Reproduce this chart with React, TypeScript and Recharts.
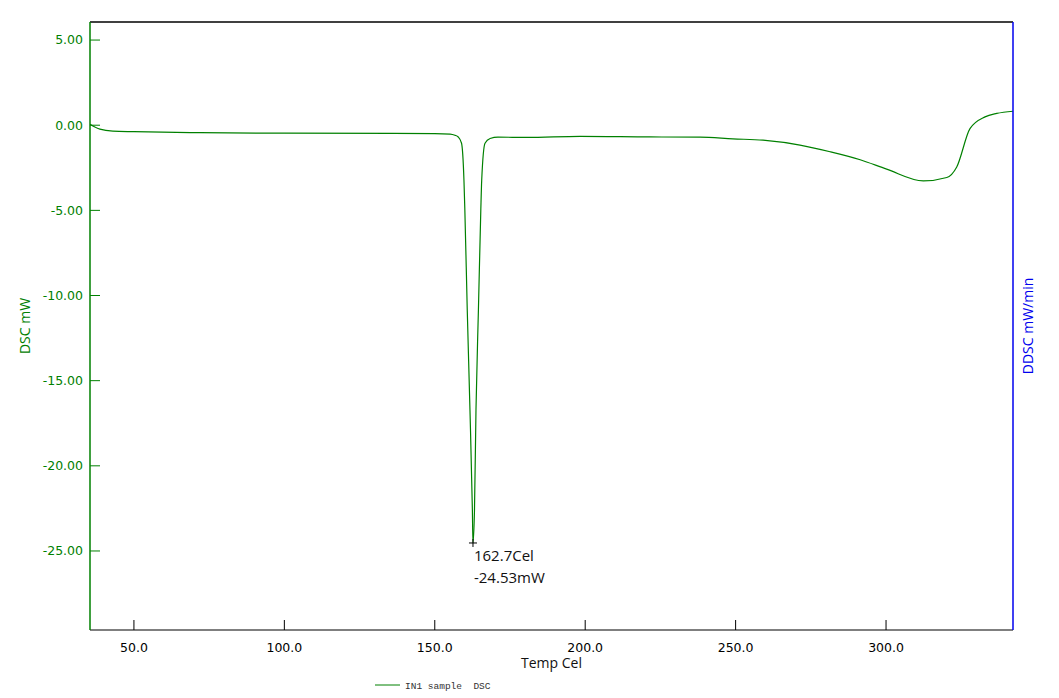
import React from "react";
import {
  LineChart,
  Line,
  XAxis,
  YAxis,
  ReferenceDot,
  ReferenceLine
} from "recharts";

// temperature (Cel) and DSC signal (mW)
const temps = [
  35.4, 38.7, 43.0, 50.0, 71.9, 100.0, 150.0, 155.1, 156.7, 157.8, 158.9, 159.7,
  160.0, 160.8, 161.7, 162.5, 162.7, 163.2, 163.7, 164.5, 165.3, 165.6, 166.7,
  168.4, 171.0, 180.6, 198.3, 221.5, 238.2, 249.1, 259.1, 271.4, 281.4, 291.4,
  300.2, 312.4, 320.2, 323.5, 327.9, 332.9, 336.8, 342.2
];
const dsc = [
  0.06, -0.23, -0.35, -0.38, -0.44, -0.47, -0.49, -0.52, -0.59, -0.69, -1.06, -3.23,
  -4.99, -10.86, -16.73, -22.6, -24.53, -22.6, -16.7, -10.9, -5.0, -3.23, -1.06,
  -0.78, -0.7, -0.72, -0.65, -0.69, -0.7, -0.8, -0.88, -1.17, -1.56, -2.03,
  -2.58, -3.27, -3.07, -2.45, -0.2, 0.49, 0.69, 0.82
];
const xTicks = [50, 100, 150, 200, 250, 300];
const yTicks = [5, 0, -5, -10, -15, -20, -25];
const peak = { t: 162.7, v: -24.53 };
const xDomain = [35.4, 342.2];
const yDomain = [-29.64, 6.06];

const data = temps.map((t, i) => ({ t, v: dsc[i] }));

const GREEN = "#008000";
const uiFont = "'Open Sans', 'Noto Sans', sans-serif";
const tickFont = "'DejaVu Sans', Verdana, sans-serif";

const PeakMark = (props: any) => {
  const { cx, cy } = props;
  return (
    <g>
      <line x1={cx - 4} x2={cx + 4} y1={cy} y2={cy} stroke="#000" />
      <line x1={cx} x2={cx} y1={cy - 4} y2={cy + 4} stroke="#000" />
      <text x={cx + 1} y={cy + 18} fontFamily={uiFont} fontSize={15} fill="#111">
        {peak.t.toFixed(1)}Cel
      </text>
      <text x={cx + 1} y={cy + 40} fontFamily={uiFont} fontSize={15} fill="#111">
        {peak.v.toFixed(2)}mW
      </text>
    </g>
  );
};

const XLabel = (props: any) => {
  const vb = props.viewBox || {};
  const cx = vb.x + vb.width / 2;
  return (
    <g>
      <text x={cx} y={vb.y + 38} textAnchor="middle" fontFamily={uiFont} fontSize={14} fill="#111">
        Temp Cel
      </text>
      <line x1={375} x2={400} y1={685} y2={685} stroke={GREEN} strokeWidth={1} />
      <text x={405} y={689} fontFamily="'Liberation Mono', 'DejaVu Sans Mono', monospace" fontSize={9.5} fill="#333" xmlSpace="preserve">
        IN1 sample  DSC
      </text>
    </g>
  );
};

const LeftLabel = (props: any) => {
  const vb = props.viewBox || {};
  const cy = vb.y + vb.height / 2;
  return (
    <text x={30} y={cy} transform={`rotate(-90 30 ${cy})`} textAnchor="middle" fontFamily={uiFont} fontSize={14} fill={GREEN}>
      DSC mW
    </text>
  );
};

const RightLabel = (props: any) => {
  const vb = props.viewBox || {};
  const cy = vb.y + vb.height / 2;
  return (
    <text x={1033} y={cy} transform={`rotate(-90 1033 ${cy})`} textAnchor="middle" fontFamily={uiFont} fontSize={14} fill="#0000ee">
      DDSC mW/min
    </text>
  );
};

export default function App() {
  return (
    <div style={{ position: "absolute", left: 0, top: 0, background: "#fff" }}>
      <LineChart width={1059} height={698} data={data} margin={{ top: 22, right: 0, bottom: 0, left: 0 }}>
        <XAxis
          dataKey="t"
          type="number"
          domain={xDomain}
          ticks={xTicks}
          allowDataOverflow
          height={68}
          tickSize={-10}
          tickMargin={23}
          tickFormatter={(v: number) => v.toFixed(1)}
          tick={{ fill: "#000", fontSize: 12.5, fontFamily: tickFont }}
          tickLine={{ stroke: "#000" }}
          axisLine={{ stroke: "#000", strokeWidth: 1.2 }}
          label={<XLabel />}
        />
        <YAxis
          type="number"
          domain={yDomain}
          ticks={yTicks}
          allowDataOverflow
          width={90}
          tickSize={-10}
          tickMargin={17}
          tickFormatter={(v: number) => v.toFixed(2)}
          tick={{ fill: GREEN, fontSize: 12.5, fontFamily: tickFont }}
          tickLine={{ stroke: GREEN }}
          axisLine={{ stroke: GREEN, strokeWidth: 1.5 }}
          label={<LeftLabel />}
        />
        <YAxis
          yAxisId="r"
          orientation="right"
          domain={[0, 1]}
          width={46}
          tick={false}
          tickLine={false}
          axisLine={{ stroke: "#0000ee", strokeWidth: 1.5 }}
          label={<RightLabel />}
        />
        <ReferenceLine y={yDomain[1]} stroke="#000" strokeWidth={1.5} ifOverflow="visible" />
        <Line
          type="monotone"
          dataKey="v"
          stroke={GREEN}
          strokeWidth={1.2}
          dot={false}
          isAnimationActive={false}
        />
        <ReferenceDot x={peak.t} y={peak.v} r={0} shape={<PeakMark />} ifOverflow="visible" />
      </LineChart>
    </div>
  );
}
